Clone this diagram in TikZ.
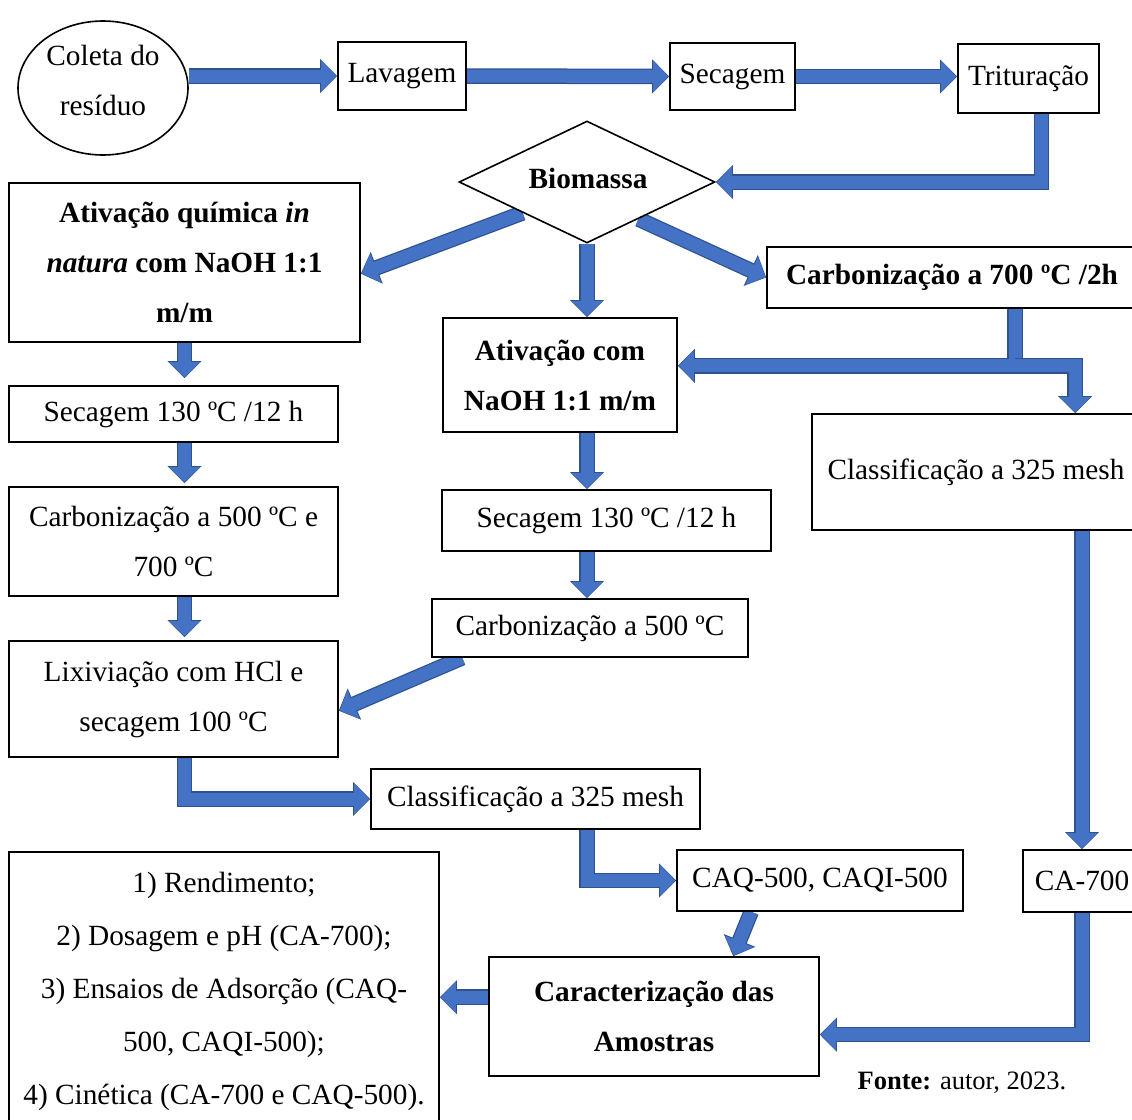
\documentclass[tikz,border=0pt]{standalone}
\usepackage{fontspec}
\setmainfont{Liberation Serif}
\usetikzlibrary{arrows.meta,shapes.geometric,calc,backgrounds}
\definecolor{arrowblue}{HTML}{4472C4}
\definecolor{arrowdark}{HTML}{2F528F}
\begin{document}
\begin{tikzpicture}[x=1pt,y=-1pt,
  box/.style={draw, line width=1.6pt, fill=white, inner sep=0pt, align=center,
    font=\fontsize{29.3}{50}\selectfont},
  bbox/.style={box, font=\fontsize{29.3}{50}\selectfont\bfseries},
  barrow/.style={arrowblue, line width=13pt, line join=miter, shorten >=1pt,
    -{Triangle[length=15pt,width=30pt]},
    preaction={draw=arrowdark, line width=15.5pt, shorten >=0pt,
      -{Triangle[length=17pt,width=33pt]}}}]
\useasboundingbox (0,0) rectangle (1132,1119);
% nodes
\node[draw, ellipse, line width=1.6pt, fill=white, minimum width=170, minimum height=134, inner sep=0pt] (ell) at (103,88) {};
\node[align=center, font=\fontsize{29.3}{50}\selectfont] (elltext) at (103,80) {Coleta do\\resíduo};
\node[box, minimum width=128, minimum height=68] (lav) at (402,76) {Lavagem};
\node[box, minimum width=125, minimum height=67] (sec) at (732.5,76.5) {Secagem};
\node[box, minimum width=141, minimum height=69] (tri) at (1028.5,78.5) {Trituração};
\node[draw, diamond, aspect=2.1, line width=1.6pt, fill=white, minimum width=256, minimum height=122, inner sep=0pt] (bio) at (587,182) {};
\node[font=\fontsize{29.3}{50}\selectfont\bfseries] (biotext) at (588,178) {Biomassa};
\node[bbox, minimum width=351, minimum height=159] (aq) at (184.5,262.5)
  {Ativação química \textit{in}\\\textit{natura} com NaOH 1:1\\m/m};
\node[bbox, minimum width=370, minimum height=61] (c7) at (952,277.5) {Carbonização a 700 ºC /2h};
\node[bbox, minimum width=234, minimum height=114] (an) at (560,375) {Ativação com\\NaOH 1:1 m/m};
\node[box, minimum width=329, minimum height=56] (s1) at (173.5,414) {Secagem 130 ºC /12 h};
\node[box, minimum width=328, minimum height=116] (cl7) at (976,472) {Classificação a 325 mesh};
\node[box, minimum width=329, minimum height=109] (cl) at (173.5,541.5) {Carbonização a 500 ºC e\\700 ºC};
\node[box, minimum width=329, minimum height=61] (s2) at (606.5,520.5) {Secagem 130 ºC /12 h};
\node[box, minimum width=316, minimum height=58] (c5) at (590,628) {Carbonização a 500 ºC};
\node[box, minimum width=329, minimum height=116] (lix) at (173.5,699) {Lixiviação com HCl e\\secagem 100 ºC};
\node[box, minimum width=329, minimum height=60] (cl5) at (535.5,799) {Classificação a 325 mesh};
\node[box, minimum width=286, minimum height=61] (caq) at (820,880.5) {CAQ-500, CAQI-500};
\node[box, minimum width=118, minimum height=62] (ca7) at (1082,881) {CA-700};
\node[box, minimum width=430, minimum height=278, font=\fontsize{29.3}{53}\selectfont] (res) at (224,991)
  {1) Rendimento;\\2) Dosagem e pH (CA-700);\\3) Ensaios de Adsorção (CAQ-\\500, CAQI-500);\\4) Cinética (CA-700 e CAQ-500).};
\node[bbox, minimum width=330, minimum height=119] (car) at (654,1016.5) {Caracterização das\\Amostras};
\node[font=\fontsize{26.5}{30}\selectfont] (fonte) at (962,1083) {\textbf{Fonte:} autor, 2023.};
% arrows
\begin{scope}[on background layer]
\draw[barrow] (ell.east |- lav.west) -- (lav.west);
\draw[barrow] (lav.east) -- (sec.west);
\draw[barrow] (sec.east) -- (sec.east -| tri.west);
\coordinate (dtop) at ($(tri.south)+(13,0)$);
\draw[barrow] (dtop) -- (dtop |- bio.east) -- (bio.east);
\draw[barrow] ($(bio.west)!0.5!(bio.south)$) -- ($(aq.north east)!0.57!(aq.south east)$);
\draw[barrow] (bio.south) -- (bio.south |- an.north);
\draw[barrow] ($(bio.south)!0.4!(bio.east)$) -- (c7.west);
\coordinate (split) at ($(c7.south west)+(249,57)$);
\coordinate (splitR) at ($(split)+(60,0)$);
\draw[barrow] (split |- c7.south) -- (split) -- (an.east |- split);
\draw[barrow] (split) -- (splitR) -- (splitR |- cl7.north);
\draw[barrow] (aq.south) -- ($(aq.south |- s1.north)+(0,-7)$);
\draw[barrow] (s1.south -| aq.south) -- ($(cl.north -| aq.south)+(0,-3)$);
\draw[barrow] (cl.south -| aq.south) -- ($(lix.north -| aq.south)+(0,-3)$);
\draw[barrow] (lix.south -| aq.south) -- (aq.south |- cl5.west) -- (cl5.west);
\draw[barrow] (bio.south |- an.south) -- (bio.south |- s2.north);
\draw[barrow] (bio.south |- s2.south) -- (bio.south |- c5.north);
\draw[barrow] ($(c5.south west)+(31,0)$) -- ($(lix.north east)!0.6!(lix.south east)$);
\draw[barrow] (bio.south |- cl5.south) -- (bio.south |- caq.west) -- (caq.west);
\draw[barrow] (cl7.south -| ca7.north) -- (ca7.north);
\draw[barrow] ($(caq.south west)+(75,0)$) -- ($(car.north west)+(245,0)$);
\coordinate (carE) at ($(car.north east)!0.65!(car.south east)$);
\draw[barrow] (ca7.south) -- (ca7.south |- carE) -- (carE);
\coordinate (carW) at ($(car.north west)!0.34!(car.south west)$);
\draw[barrow] (carW) -- (res.east |- carW);
\end{scope}
\end{tikzpicture}
\end{document}
